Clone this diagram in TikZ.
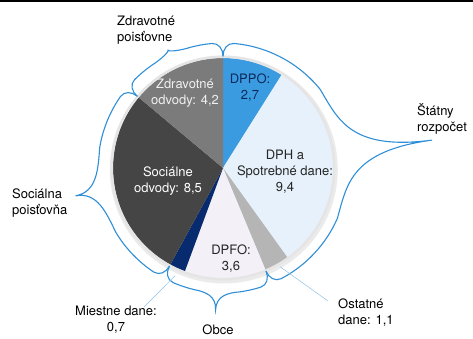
\documentclass[tikz,border=0pt]{standalone}
\usepackage{fontspec}
\setmainfont{TeX Gyre Heros}
\usetikzlibrary{positioning, calc}

\definecolor{dppoblue}{HTML}{3B9BE0}
\definecolor{dphblue}{HTML}{E6F1FB}
\definecolor{ostgray}{HTML}{B5B5B5}
\definecolor{dpfolilac}{HTML}{F3F0F7}
\definecolor{miestnenavy}{HTML}{082A6E}
\definecolor{socgray}{HTML}{454545}
\definecolor{zdrgray}{HTML}{7B7B7B}
\definecolor{braceblue}{HTML}{2E8FD6}
\definecolor{leaderblue}{HTML}{8EC1E8}
\definecolor{navytext}{HTML}{0B2A5C}

\tikzset{
  pbrace/.style={draw=braceblue, line width=1.1pt, line cap=round},
  leader/.style={draw=leaderblue, line width=0.5pt},
  lbl/.style={font=\fontsize{13}{16}\selectfont, align=left, inner sep=1pt},
  inlbl/.style={font=\fontsize{13}{16}\selectfont, align=center, inner sep=1pt}
}

% one slice of the pie: start angle, end angle, colour
\newcommand{\pieslice}[3]{%
  \fill[#3] (0,0) -- (#1:110) arc[start angle=#1, end angle=#2, radius=110] -- cycle;}

% curly brace round the pie: start angle, end angle, tip angle, tip radius
\newcommand{\piebrace}[4]{%
  \pgfmathsetmacro{\bS}{#1-(#2)}
  \pgfmathsetmacro{\bHa}{#1-2}
  \pgfmathsetmacro{\bA}{#1-5}
  \pgfmathsetmacro{\bB}{#3+0.2*\bS}
  \pgfmathsetmacro{\bBc}{#3+0.1*\bS}
  \pgfmathsetmacro{\bCc}{#3-0.1*\bS}
  \pgfmathsetmacro{\bC}{#3-0.2*\bS}
  \pgfmathsetmacro{\bD}{#2+5}
  \pgfmathsetmacro{\bHd}{#2+2}
  \draw[pbrace] (#1:112) .. controls (#1:119) and (\bHa:125) .. (\bA:125)
    arc[start angle=\bA, end angle=\bB, radius=125]
    .. controls (\bBc:125) and (#3:128) .. (#3:#4)
    .. controls (#3:128) and (\bCc:125) .. (\bC:125)
    arc[start angle=\bC, end angle=\bD, radius=125]
    .. controls (\bHd:125) and (#2:119) .. (#2:112);}

\begin{document}
\begin{tikzpicture}[x=1pt, y=1pt]
  \useasboundingbox (0,0) rectangle (473,338);
  \fill[black] (0,335.5) rectangle (473,338);

  \begin{scope}[shift={(223,170)}]
    \fill[black!8] (0.8,-1.5) circle[radius=114];
    \pieslice{90}{57.815}{dppoblue}
    \pieslice{57.815}{-54.238}{dphblue}
    \pieslice{-54.238}{-67.351}{ostgray}
    \pieslice{-67.351}{-110.265}{dpfolilac}
    \pieslice{-110.265}{-118.609}{miestnenavy}
    \pieslice{-118.609}{-219.934}{socgray}
    \pieslice{-219.934}{-270}{zdrgray}
    \draw[gray!20, line width=2.5pt] (0,0) circle[radius=111.2];

    \piebrace{90}{-67.351}{7.6}{211}
    \piebrace{-67.351}{-118.609}{-93}{142}
    \piebrace{241.391}{140.066}{190.7}{150}
    \piebrace{140.066}{90}{115}{130}

    \coordinate (ostpt) at (-60:114);
    \coordinate (miept) at (-114:118);
  \end{scope}

  \node[inlbl, text=navytext] (dppo) at (250,250) {DPPO:\\2,7};
  \node[inlbl, text=gray!12] (zdrav) at (185,245) {Zdravotné\\odvody: 4,2};
  \node[inlbl, text=black!85] (dph) at (285,166) {DPH a\\Spotrebné dane:\\9,4};
  \node[inlbl, text=white] (soc) at (168,157) {Sociálne\\odvody: 8,5};
  \node[inlbl, text=black!85] (dpfo) at (231,79) {DPFO:\\3,6};

  \node[lbl, anchor=west] (statny) at (416,219) {Štátny\\rozpočet};
  \node[lbl, anchor=west] (zpois) at (116,308) {Zdravotné\\poisťovne};
  \node[lbl, anchor=west] (spois) at (11,135) {Sociálna\\poisťovňa};
  \node[inlbl] (miestne) at (116,18) {Miestne dane:\\0,7};
  \node[inlbl] (obce) at (218,8) {Obce};
  \node[lbl, anchor=west] (ostatne) at (337,25) {Ostatné\\dane: 1,1};

  \draw[leader] (ostpt) -- ([xshift=-9pt, yshift=-3pt]ostatne.north west);
  \draw[leader] (miept) -- ([xshift=-14pt, yshift=-2pt]miestne.north east);
\end{tikzpicture}
\end{document}
